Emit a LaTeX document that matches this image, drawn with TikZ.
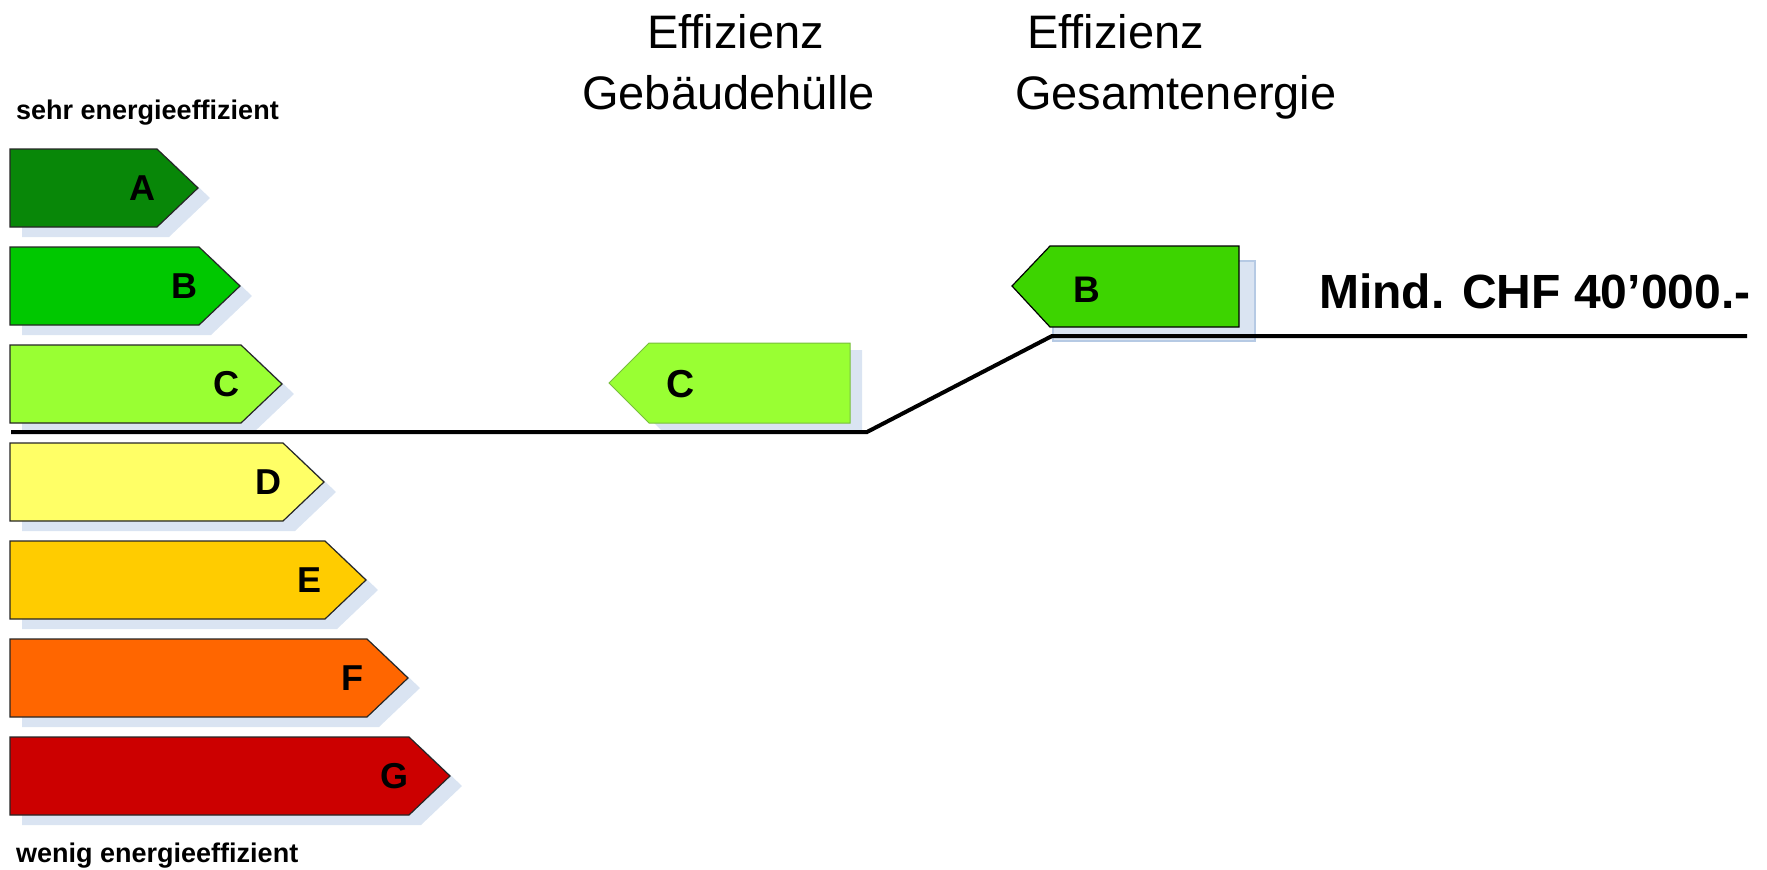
\documentclass[tikz,border=0pt]{standalone}
\usepackage{fontspec}
\setmainfont{Liberation Sans}
\definecolor{colA}{RGB}{8,135,8}
\definecolor{colB}{RGB}{0,200,0}
\definecolor{colC}{RGB}{153,255,51}
\definecolor{colD}{RGB}{255,255,102}
\definecolor{colE}{RGB}{255,204,0}
\definecolor{colF}{RGB}{255,102,0}
\definecolor{colG}{RGB}{204,0,0}
\definecolor{colBB}{RGB}{61,212,0}
\definecolor{shadowblue}{RGB}{218,228,242}
\definecolor{shadowedge}{RGB}{182,202,228}
\definecolor{cedge}{RGB}{120,190,60}
\begin{document}
\begin{tikzpicture}[x=1pt,y=-1pt,
  lbl/.style={inner sep=0pt, font=\bfseries\fontsize{36}{36}\selectfont},
  caption/.style={inner sep=0pt, anchor=base west, font=\bfseries\fontsize{27}{27}\selectfont},
  title/.style={inner sep=0pt, anchor=base west, font=\fontsize{47}{47}\selectfont},
  shadowfill/.style={fill=shadowblue},
  arrowbox/.style={draw=black!85, line width=1.2pt},
  levelline/.style={line width=4pt, line join=miter}
  ]
\useasboundingbox (0,0) rectangle (1767,870);

% captions
\node[caption] (top) at (16,119) {sehr energieeffizient};
\node[caption] (bottom) at (16,862) {wenig energieeffizient};

% scale arrows
\foreach \i/\c/\l in {0/colA/A,1/colB/B,2/colC/C,3/colD/D,4/colE/E,5/colF/F,6/colG/G} {
  \pgfmathsetmacro\yt{149+98*\i}
  \pgfmathsetmacro\yb{\yt+78}
  \pgfmathsetmacro\ym{\yt+39}
  \pgfmathsetmacro\xb{157+42*\i}
  \pgfmathsetmacro\xt{\xb+41}
  \fill[shadowfill] (22,\yt+10) -- (\xb+12,\yt+10) -- (\xt+12,\ym+10) -- (\xb+12,\yb+10) -- (22,\yb+10) -- cycle;
  \draw[arrowbox, fill=\c] (10,\yt) -- (\xb,\yt) -- (\xt,\ym) -- (\xb,\yb) -- (10,\yb) -- cycle;
  \node[lbl] (L\l) at (\xb-15,\ym) {\l};
}

% titles
\node[title] (t1a) at (647,48) {Effizienz};
\node[title] (t1b) at (582,109) {Gebäudehülle};
\node[title] (t2a) at (1027,48) {Effizienz};
\node[title] (t2b) at (1015,109) {Gesamtenergie};

% middle C (envelope efficiency)
\fill[shadowfill] (661,350) -- (862,350) -- (862,430) -- (661,430) -- (621,389) -- cycle;
\draw[line width=1pt, draw=cedge, fill=colC] (649,343) -- (850,343) -- (850,423) -- (649,423) -- (609,383) -- cycle;
\node[lbl, font=\bfseries\fontsize{39}{39}\selectfont] (MC) at (681,384) {C};

% right B (overall energy efficiency)
\draw[line width=1.5pt, draw=shadowedge, fill=shadowblue] (1053,261) rectangle (1255,341);
\draw[line width=1.2pt, draw=black, fill=colBB] (1050,246) -- (1239,246) -- (1239,327) -- (1050,327) -- (1012,286) -- cycle;
\node[lbl, font=\bfseries\fontsize{37}{37}\selectfont] (RB) at (1087,290) {B};

% level line
\coordinate (p0) at (11,432);
\coordinate (p1) at (867,432);
\coordinate (p2) at (1052,336);
\coordinate (p3) at (1747,336);
\draw[levelline] (p0) -- (p1) -- (p2) -- (p3);

\node[inner sep=0pt, anchor=base west, font=\bfseries\fontsize{48}{48}\selectfont] (chf) at (1319,308) {Mind. CHF 40’000.-};
\end{tikzpicture}
\end{document}
